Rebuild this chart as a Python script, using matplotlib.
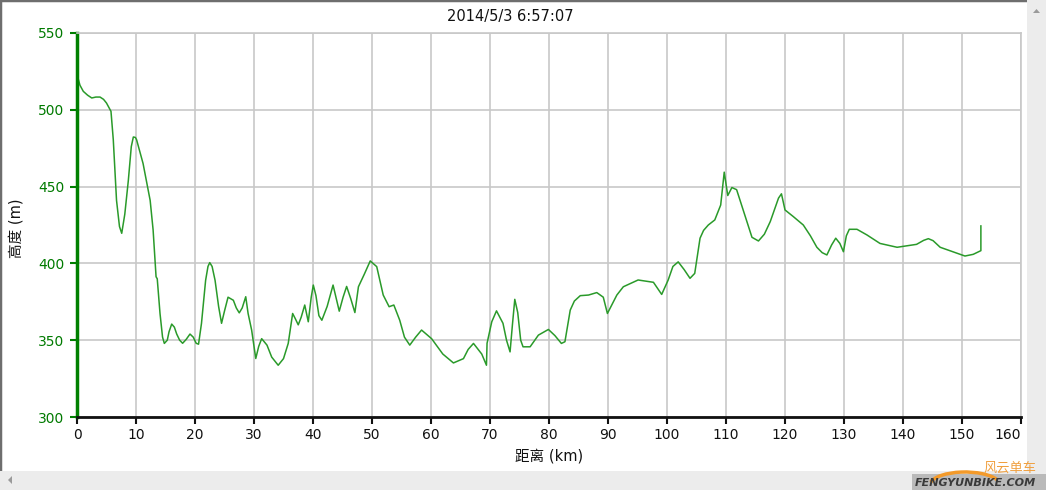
import matplotlib
matplotlib.use("Agg")
import matplotlib.pyplot as plt
from matplotlib.patches import Rectangle, Polygon, Arc

plt.rcParams['font.family'] = ['DejaVu Sans', 'Noto Sans CJK SC']

title = "2014/5/3 6:57:07"
xlabel = "距离 (km)"
ylabel = "高度 (m)"

dist_km = [0.0, 0.5, 1.07, 1.8, 2.5, 3.2, 3.9, 4.5, 5.0, 5.76, 6.15, 6.7, 7.2, 7.58, 8.1,
           8.7, 9.2, 9.55, 9.9, 10.1, 11.2, 12.4, 12.9, 13.4, 13.6, 14.07, 14.5, 14.8, 15.3,
           15.6, 16.05, 16.5, 16.9, 17.4, 17.9, 18.5, 19.15, 19.7, 20.2, 20.6, 21.1, 21.8,
           22.2, 22.5, 22.9, 23.4, 24.0, 24.5, 25.0, 25.6, 26.5, 27.0, 27.5, 28.0, 28.6,
           29.0, 29.6, 30.3, 30.8, 31.3, 32.2, 33.0, 34.1, 35.0, 35.8, 36.55, 37.0, 37.5,
           38.0, 38.6, 39.2, 39.7, 40.05, 40.5, 41.0, 41.5, 42.4, 43.4, 44.45, 45.1, 45.7,
           46.4, 47.1, 47.7, 48.7, 49.7, 50.8, 51.9, 52.9, 53.7, 54.7, 55.5, 56.4, 57.4,
           58.4, 60.1, 62.0, 63.8, 65.5, 66.3, 67.2, 68.6, 69.4, 69.5, 70.3, 71.1, 72.2,
           72.8, 73.4, 73.8, 74.2, 74.7, 75.2, 75.6, 76.8, 78.2, 79.9, 81.0, 82.1, 82.7,
           83.6, 84.3, 85.3, 86.7, 88.1, 89.2, 89.9, 91.5, 92.6, 95.1, 97.7, 99.1, 100.2,
           101.0, 101.9, 102.9, 103.9, 104.7, 105.6, 106.2, 107.0, 108.1, 109.1, 109.7,
           110.3, 111.0, 111.8, 112.9, 113.7, 114.4, 115.5, 116.5, 117.5, 118.3, 118.9,
           119.4, 120.0, 121.4, 123.1, 124.3, 125.4, 126.3, 127.1, 127.9, 128.6, 129.3,
           129.9, 130.4, 130.9, 132.2, 133.9, 136.1, 139.0, 142.3, 143.5, 144.3, 145.1,
           146.3, 147.9, 149.2, 150.5, 151.9, 153.2, 153.2]
elev_m = [523, 516, 512, 509.5, 507.7, 508.3, 508.3, 506.8, 504.4, 499, 480.5, 441, 424, 419.6,
          432, 454, 476, 482.3, 482, 480.5, 465, 441, 421.8, 391.3, 390, 367.4, 352, 347.9,
          350, 355.5, 360.5, 358.5, 354, 350, 348, 350.5, 354, 352, 348, 347.4, 361, 389,
          398, 400.5, 398, 389, 372, 361, 369, 378, 376, 371, 367.8, 371, 378.3,
          367.4, 356.6, 338.1, 346, 351, 346.8, 339, 333.7, 338, 347.9, 367.4, 364, 360,
          365, 372.9, 362, 378, 385.9, 379, 366, 363, 372, 385.9, 368.9, 378, 385,
          377, 368, 384.8, 393, 401.6, 397.9, 379.4, 371.8, 372.9, 363, 352, 346.8, 352,
          356.6, 351, 341, 335.2, 338, 344, 347.9, 341, 333.7, 348, 362, 369.1, 361,
          350, 342.4, 360, 376.6, 368, 350, 345.7, 345.7, 353.3, 357, 353, 347.9, 349,
          369.6, 375.5, 379, 379.4, 381, 378, 367.4, 379.4, 384.8, 389.2, 387.7, 379.8, 389.2,
          398, 401, 396, 390.3, 393.5, 416.4, 421.5, 425, 428.3, 438, 459.4,
          444.2, 449.4, 448, 434.8, 425, 417, 414.6, 419, 427.2, 436, 442.5,
          445.3, 434.8, 430.5, 425, 418, 410.5, 407, 405.5, 412, 416.4, 413,
          407.6, 418, 422.2, 422.2, 418.5, 413, 410.5, 412.4, 415, 416.1, 414.8,
          410.5, 408.3, 406.5, 404.8, 405.9, 408.3, 424.4]

x_ticks = list(range(0, 161, 10))
y_ticks = [300, 350, 400, 450, 500, 550]

W, H = 1046, 490
fig = plt.figure(figsize=(W / 100, H / 100), dpi=100)
fig.patch.set_facecolor('white')

L, R, T, B = 77, 1021, 33, 417
ax = fig.add_axes([L / W, 1 - B / H, (R - L) / W, (B - T) / H])
ax.plot(dist_km, elev_m, color='#2a9a2a', lw=1.1, solid_joinstyle='round')
ax.set_xlim(0, 160)
ax.set_ylim(300, 550)
ax.set_xticks(x_ticks)
ax.set_yticks(y_ticks)
ax.grid(True, color='#c8c8c8', lw=1.2)
ax.set_axisbelow(True)
for s in ['top', 'right']:
    ax.spines[s].set_color('#c8c8c8')
    ax.spines[s].set_linewidth(1.2)
ax.spines['left'].set_color('#008000')
ax.spines['left'].set_linewidth(2.5)
ax.spines['bottom'].set_color('#111111')
ax.spines['bottom'].set_linewidth(2)
ax.tick_params(axis='y', colors='#008000', labelcolor='#007a00', length=5, width=1.5,
               labelsize=10, pad=4)
ax.tick_params(axis='x', colors='#111111', length=5, width=1.5, labelsize=10, pad=3)
last = ax.get_xticklabels()[-1]
last.set_horizontalalignment('right')

fig.text(510 / W, 1 - 17 / H, title, ha='center', va='center', fontsize=10.5, color='#111111')
fig.text(549 / W, 1 - 456 / H, xlabel, ha='center', va='center', fontsize=10.5, color='#111111')
fig.text(17 / W, 1 - 228 / H, ylabel, ha='center', va='center', rotation=90,
         fontsize=10.5, color='#111111')

# window chrome
fig.add_artist(Rectangle((0, 0), 1, 1, transform=fig.transFigure, fill=False,
                         edgecolor='#6e6e6e', lw=2.5))
fig.add_artist(Rectangle((1027 / W, 0), 19 / W, 1, transform=fig.transFigure,
                         facecolor='#ececec', edgecolor='none'))
fig.add_artist(Rectangle((0, 0), 1027 / W, 19 / H, transform=fig.transFigure,
                         facecolor='#ececec', edgecolor='none'))
fig.add_artist(Polygon([[1033 / W, 1 - 13 / H], [1040 / W, 1 - 13 / H], [1036.5 / W, 1 - 9 / H]],
                       closed=True, transform=fig.transFigure, facecolor='#9a9a9a',
                       edgecolor='none'))
fig.add_artist(Polygon([[8 / W, 10 / H], [12 / W, 6 / H], [12 / W, 14 / H]],
                       closed=True, transform=fig.transFigure, facecolor='#9a9a9a',
                       edgecolor='none'))

# watermark
fig.add_artist(Rectangle((912 / W, 0), 134 / W, 16 / H, transform=fig.transFigure,
                         facecolor='#8a8a8a', edgecolor='none', alpha=0.5))
fig.add_artist(Arc((965 / W, 1 - 485 / H), 70 / W, 26 / H, theta1=20, theta2=170,
                   transform=fig.transFigure, color='#f39a2a', lw=2.5))
fig.text(975 / W, 1 - 483 / H, "FENGYUNBIKE.COM", ha='center', va='center', fontsize=8,
         style='italic', fontweight='bold', color='#3a3a3a')
fig.text(1010 / W, 1 - 468 / H, "风云单车", ha='center', va='center', fontsize=9.5,
         color='#f0a040', family=['Noto Sans CJK SC', 'DejaVu Sans'])

fig.savefig('out.png', dpi=100, facecolor='white')
